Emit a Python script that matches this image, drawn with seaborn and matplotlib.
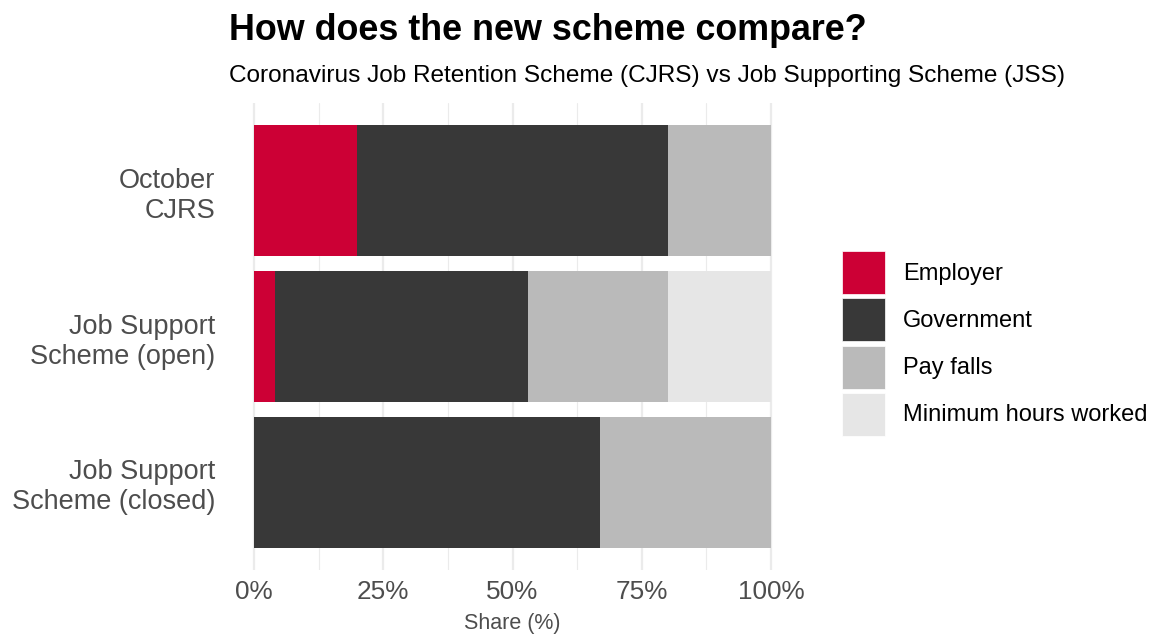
import numpy as np
import pandas as pd
import matplotlib
matplotlib.use("Agg")
import matplotlib.pyplot as plt
from matplotlib.patches import Patch
from matplotlib.ticker import MultipleLocator, FuncFormatter
import seaborn as sns

# ---- data ----
schemes = ["October\nCJRS", "Job Support\nScheme (open)", "Job Support\nScheme (closed)"]
components = ["Employer", "Government", "Pay falls", "Minimum hours worked"]
employer = [20, 4, 0]
government = [60, 49, 67]
pay_falls = [20, 27, 33]
min_hours = [0, 20, 0]
colors = ["#CC0035", "#383838", "#BABABA", "#E6E6E6"]

sns.set_theme(style="white")
plt.rcParams["font.family"] = ["Liberation Sans", "DejaVu Sans"]

series = [employer, government, pay_falls, min_hours]
cum = np.cumsum(np.array(series, dtype=float), axis=0)
df = pd.DataFrame({"scheme": schemes})
for name, c in zip(components, cum):
    df[name] = c

fig = plt.figure(figsize=(11.49, 6.34), dpi=100)
ax = fig.add_axes([228/1149, 1-570/634, (797-228)/1149, (570-103)/634])

# gridlines
ax.set_axisbelow(True)
ax.xaxis.set_major_locator(MultipleLocator(25))
ax.xaxis.set_minor_locator(MultipleLocator(12.5))
ax.grid(which="major", axis="both", color="#EBEBEB", linewidth=1.6)
ax.grid(which="minor", axis="x", color="#EBEBEB", linewidth=0.8)

# stacked bars: draw cumulative totals from largest to smallest
for name, col in reversed(list(zip(components, colors))):
    sns.barplot(data=df, y="scheme", x=name, orient="h", color=col,
                width=0.9, linewidth=0, saturation=1, ax=ax, zorder=2)

ax.set_xlim(-5, 105)
ax.set_ylim(2.6, -0.6)
ax.xaxis.set_major_formatter(FuncFormatter(lambda v, p: f"{v:.0f}%"))
for s in ax.spines.values():
    s.set_visible(False)
ax.tick_params(axis="both", which="both", length=0)
ax.tick_params(axis="y", labelsize=19.5, labelcolor="#4D4D4D", pad=9)
ax.tick_params(axis="x", labelsize=18.8, labelcolor="#4D4D4D", pad=7)
for t in ax.get_yticklabels():
    t.set_horizontalalignment("right")
    t.set_multialignment("right")
    t.set_linespacing(1.2)
ax.set_ylabel("")
ax.set_xlabel("Share (%)", fontsize=15.5, color="#4D4D4D", labelpad=7)

fig.text(229/1149, 1-31/634, "How does the new scheme compare?", fontsize=25.8,
         fontweight="bold", color="black", ha="left", va="center")
fig.text(229/1149, 1-76/634,
         "Coronavirus Job Retention Scheme (CJRS) vs Job Supporting Scheme (JSS)",
         fontsize=17.6, color="black", ha="left", va="center")

handles = [Patch(facecolor=c, edgecolor="white", linewidth=0.5, label=l)
           for l, c in zip(components, colors)]
leg = fig.legend(handles=handles, loc="center left", bbox_to_anchor=(842/1149, 1-343.5/634),
                 frameon=False, fontsize=17, handlelength=1.82, handleheight=2.43,
                 labelspacing=0.17, handletextpad=0.76, borderpad=0, borderaxespad=0)
for t in leg.get_texts():
    t.set_color("black")

fig.savefig("out.png", dpi=100)
